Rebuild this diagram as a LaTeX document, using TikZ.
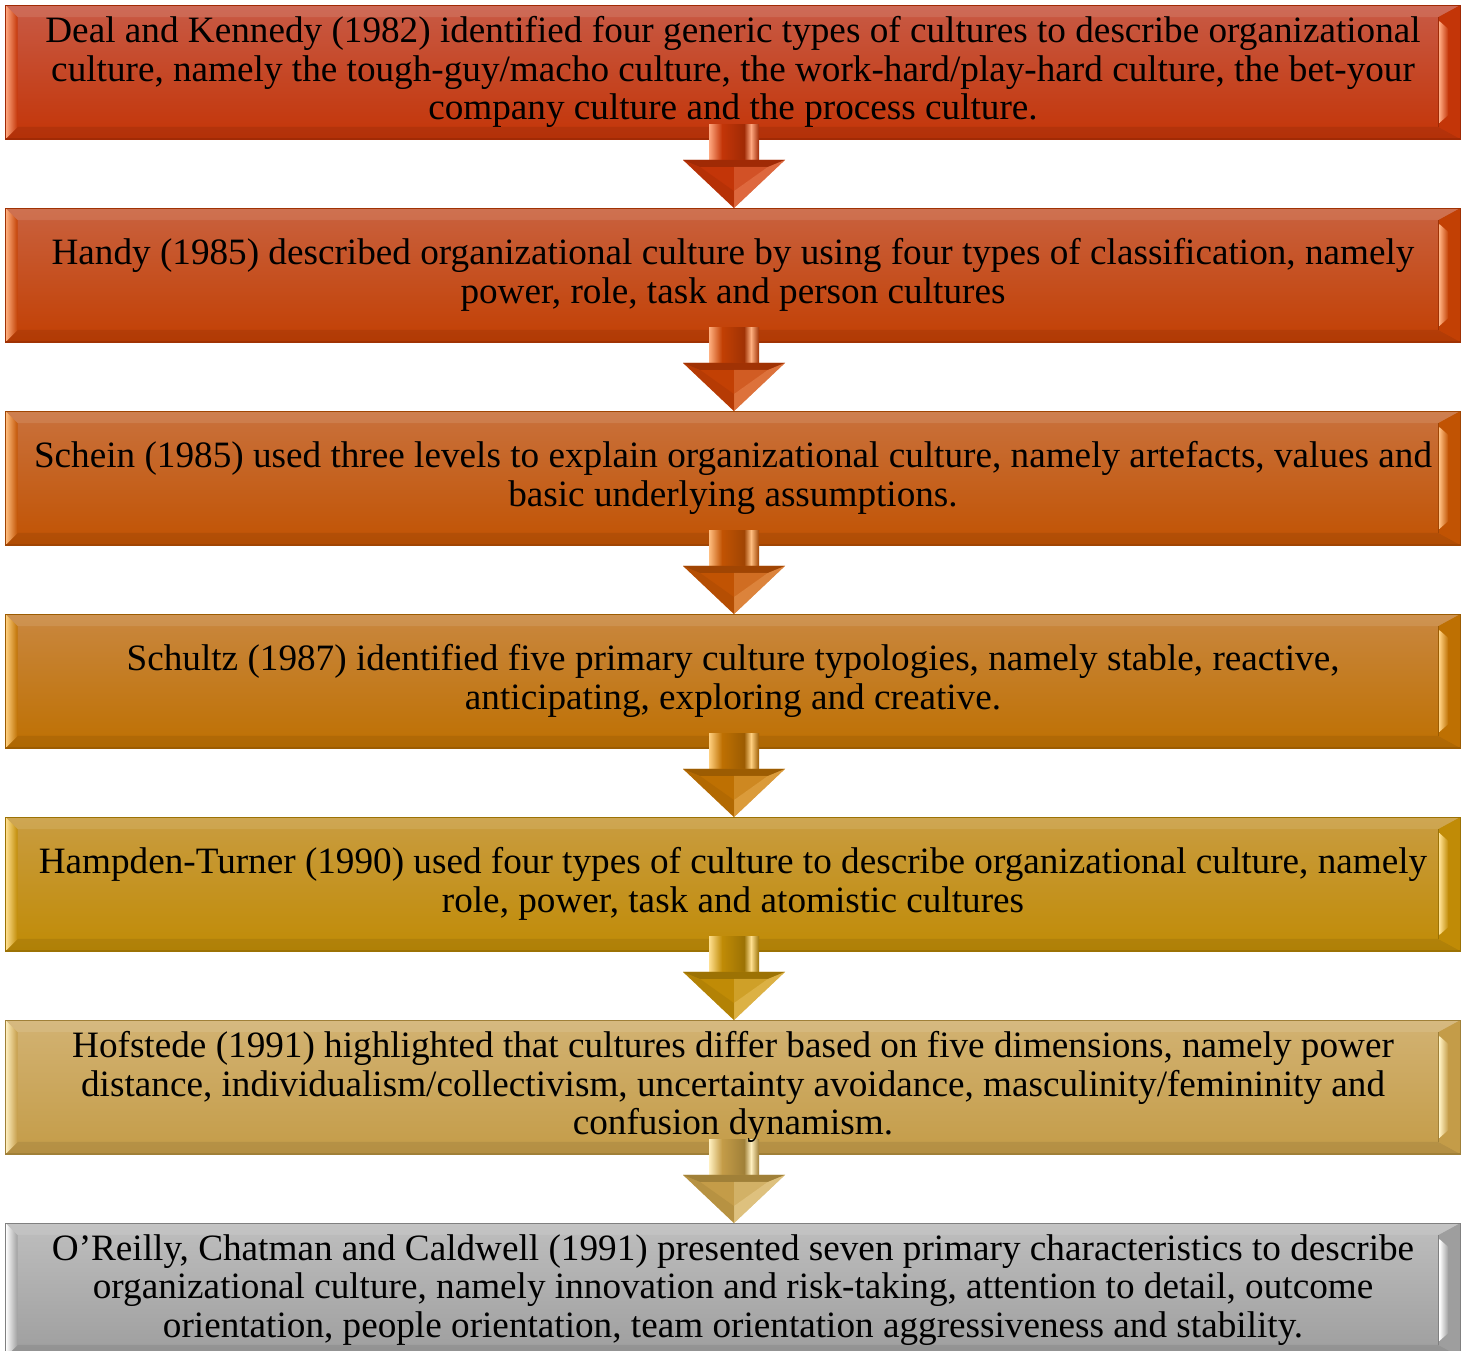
\documentclass[tikz,border=0pt]{standalone}
\usepackage{fontspec}
\setmainfont{Liberation Serif}
\usetikzlibrary{calc}
\pgfdeclarelayer{back}
\pgfdeclarelayer{mid}
\pgfsetlayers{back,mid,main}

\tikzset{
  x=0.5pt, y=-0.5pt,
  stage/.style={minimum width=727pt, minimum height=66.5pt, inner sep=0pt,
    align=center, text=black, font=\fontsize{18.6}{19.4}\selectfont},
}

% beveled panel behind a stage node: #1 node, #2 top, #3 bottom, #4 highlight, #5 edge
\newcommand\bevelpanel[5]{%
  \begin{pgfonlayer}{back}
    \shade[top color=#2, bottom color=#3] (#1.north west) rectangle (#1.south east);
    \fill[white, opacity=0.10] (#1.north west) -- (#1.north east)
      -- ($(#1.north east)+(-22,12)$) -- ($(#1.north west)+(12,12)$) -- cycle;
    \fill[black, opacity=0.08] (#1.south west) -- ($(#1.south west)+(12,-12)$)
      -- ($(#1.south east)+(-22,-12)$) -- (#1.south east) -- cycle;
    \shade[left color=#4, right color=#3] (#1.north west) -- ($(#1.north west)+(12,12)$)
      -- ($(#1.south west)+(12,-12)$) -- (#1.south west) -- cycle;
    \fill[#3] ($(#1.north east)+(-22,12)$) -- (#1.north east)
      -- (#1.south east) -- ($(#1.south east)+(-22,-12)$) -- cycle;
    \shade[left color=#4, right color=#3] ($(#1.north east)+(-21,16)$) -- ($(#1.north east)+(-12,24)$)
      -- ($(#1.south east)+(-12,-24)$) -- ($(#1.south east)+(-21,-16)$) -- cycle;
    \draw[#5, line width=0.4pt] ($(#1.north east)+(-22,12)$) -- ($(#1.south east)+(-22,-12)$);
    \draw[#5, line width=0.6pt] (#1.north west) rectangle (#1.south east);
  \end{pgfonlayer}}

% block arrow from one stage to the next: #3 base, #4 highlight, #5 shadow
\newcommand\flowarrow[5]{%
  \begin{pgfonlayer}{mid}
    \coordinate (s) at ($(#1.south)+(1,0)$);
    \coordinate (t) at ($(#2.north)+(1,0)$);
    \shade[left color=#4, right color=#3] ($(s)+(-25,-14)$) rectangle ($(s)+(-12,21)$);
    \shade[left color=#3, right color=#5] ($(s)+(-12,-14)$) rectangle ($(s)+(10,21)$);
    \shade[left color=#5, right color=#4] ($(s)+(10,-14)$) rectangle ($(s)+(17,21)$);
    \shade[left color=#4, right color=#5] ($(s)+(17,-14)$) rectangle ($(s)+(25,21)$);
    \fill[#3] ($(s)+(-51,21)$) -- ($(s)+(51,21)$) -- (t) -- cycle;
    \fill[#5] ($(s)+(-51,21)$) -- ($(s)+(51,21)$) -- ($(s)+(34,28)$) -- ($(s)+(-34,28)$) -- cycle;
    \fill[#4, opacity=0.45] ($(s)+(51,21)$) -- (t) -- ($(t)+(0,-17)$) -- ($(s)+(34,28)$) -- cycle;
    \fill[#4, opacity=0.25] ($(s)+(0,28)$) -- ($(s)+(34,28)$) -- ($(t)+(0,-17)$) -- cycle;
    \fill[#5, opacity=0.35] ($(s)+(-51,21)$) -- ($(s)+(-34,28)$) -- ($(t)+(0,-17)$) -- (t) -- cycle;
  \end{pgfonlayer}}

\begin{document}
\begin{tikzpicture}
  \useasboundingbox (0,0) rectangle (1461,1350);
  \clip (0,0) rectangle (1461,1350);

  \node[stage] (b1) at (733,72) {Deal and Kennedy (1982) identified four generic types of cultures to describe organizational\\
    culture, namely the tough-guy/macho culture, the work-hard/play-hard culture, the bet-your\\
    company culture and the process culture.};
  \node[stage] (b2) at (733,275) {Handy (1985) described organizational culture by using four types of classification, namely\\
    power, role, task and person cultures};
  \node[stage] (b3) at (733,478) {Schein (1985) used three levels to explain organizational culture, namely artefacts, values and\\
    basic underlying assumptions.};
  \node[stage] (b4) at (733,681) {Schultz (1987) identified five primary culture typologies, namely stable, reactive,\\
    anticipating, exploring and creative.};
  \node[stage] (b5) at (733,884) {Hampden-Turner (1990) used four types of culture to describe organizational culture, namely\\
    role, power, task and atomistic cultures};
  \node[stage] (b6) at (733,1087) {Hofstede (1991) highlighted that cultures differ based on five dimensions, namely power\\
    distance, individualism/collectivism, uncertainty avoidance, masculinity/femininity and\\
    confusion dynamism.};
  \node[stage] (b7) at (733,1290) {O’Reilly, Chatman and Caldwell (1991) presented seven primary characteristics to describe\\
    organizational culture, namely innovation and risk-taking, attention to detail, outcome\\
    orientation, people orientation, team orientation aggressiveness and stability.};

  \definecolor{t1}{HTML}{C85A45}\definecolor{u1}{HTML}{C33508}\definecolor{h1}{HTML}{FFA880}\definecolor{e1}{HTML}{A02A05}
  \definecolor{t2}{HTML}{C9613E}\definecolor{u2}{HTML}{C24004}\definecolor{h2}{HTML}{FFB080}\definecolor{e2}{HTML}{A03204}
  \definecolor{t3}{HTML}{C9713C}\definecolor{u3}{HTML}{C15303}\definecolor{h3}{HTML}{FFBE80}\definecolor{e3}{HTML}{A04503}
  \definecolor{t4}{HTML}{C9873F}\definecolor{u4}{HTML}{BE7002}\definecolor{h4}{HTML}{FFD080}\definecolor{e4}{HTML}{9C5C02}
  \definecolor{t5}{HTML}{C99C40}\definecolor{u5}{HTML}{C08B06}\definecolor{h5}{HTML}{FFE090}\definecolor{e5}{HTML}{9C7204}
  \definecolor{t6}{HTML}{D2B272}\definecolor{u6}{HTML}{C49C48}\definecolor{h6}{HTML}{FFF0C0}\definecolor{e6}{HTML}{A08038}
  \definecolor{t7}{HTML}{BEBEBE}\definecolor{u7}{HTML}{9E9E9E}\definecolor{h7}{HTML}{FFFFFF}\definecolor{e7}{HTML}{808080}

  \bevelpanel{b1}{t1}{u1}{h1}{e1}
  \bevelpanel{b2}{t2}{u2}{h2}{e2}
  \bevelpanel{b3}{t3}{u3}{h3}{e3}
  \bevelpanel{b4}{t4}{u4}{h4}{e4}
  \bevelpanel{b5}{t5}{u5}{h5}{e5}
  \bevelpanel{b6}{t6}{u6}{h6}{e6}
  \bevelpanel{b7}{t7}{u7}{h7}{e7}

  \flowarrow{b1}{b2}{u1}{h1}{e1}
  \flowarrow{b2}{b3}{u2}{h2}{e2}
  \flowarrow{b3}{b4}{u3}{h3}{e3}
  \flowarrow{b4}{b5}{u4}{h4}{e4}
  \flowarrow{b5}{b6}{u5}{h5}{e5}
  \flowarrow{b6}{b7}{u6}{h6}{e6}
\end{tikzpicture}
\end{document}
